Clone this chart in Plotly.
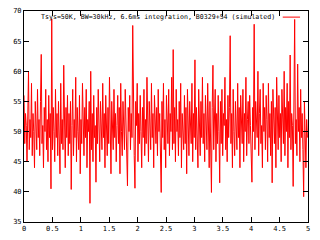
import numpy as np
import plotly.graph_objects as go

# sampling interval (s) -- every other 6.6 ms integration
dt = 0.0132

power = [
    56, 48, 53, 51, 45, 54, 60, 47, 52, 49, 58, 46, 53, 50, 44, 55, 51, 47, 57, 49,
    52, 46, 55, 62.8, 48, 51, 44, 54, 50, 57, 47, 52, 45, 56, 49, 53, 40.5, 68.7, 47, 54,
    50, 45, 57, 49, 53, 46, 55, 51, 43, 58, 48, 52, 47, 61, 50, 44, 54, 49, 56, 46,
    53, 48, 55, 40.4, 51, 57, 46, 52, 49, 59, 45, 54, 50, 47, 56, 43, 52, 48, 58, 51,
    46, 54, 49, 57, 44, 52, 50, 55, 38.1, 60, 47, 53, 45, 56, 49, 51, 41.6, 54, 48, 57,
    50, 45, 55, 52, 47, 58, 49, 53, 44, 56, 51, 46, 54, 48, 59, 50, 43, 55, 52, 47,
    57, 49, 53, 45, 51, 56, 48, 54, 43, 58, 50, 46, 55, 52, 47, 57, 49, 44, 41, 54,
    50, 56, 47, 53, 49, 67.6, 52, 46, 40.6, 55, 51, 58, 45, 53, 48, 56, 50, 44, 54, 49,
    57, 46, 52, 48, 59, 50, 45, 55, 51, 47, 58, 49, 53, 44, 56, 52, 48, 54, 46, 57,
    50, 53, 45, 39.9, 55, 49, 58, 47, 52, 44, 56, 51, 48, 57, 46, 53, 50, 59, 47, 63.6,
    48, 54, 45, 57, 50, 52, 46, 55, 49, 58, 44, 53, 51, 47, 56, 48, 54, 43, 57, 50,
    46, 55, 52, 48, 58, 45, 53, 49, 61.9, 47, 54, 50, 44, 57, 51, 46, 55, 49, 59, 48,
    53, 45, 56, 50, 47, 58, 52, 44, 55, 49, 39.9, 54, 61, 47, 51, 57, 45, 53, 48, 56,
    50, 41.5, 55, 48, 57, 46, 53, 51, 59, 47, 52, 45, 56, 49, 54, 65.9, 48, 53, 44, 57,
    50, 46, 55, 52, 47, 58, 49, 54, 44, 56, 51, 48, 57, 45, 53, 50, 59, 46, 52, 55,
    48, 56, 51, 45, 41.6, 54, 50, 67.8, 47, 55, 52, 49, 60, 46, 53, 57, 48, 51, 44, 58,
    50, 54, 47, 56, 52, 45, 58, 49, 53, 46, 55, 41.5, 57, 50, 48, 54, 44, 59, 51, 47,
    56, 49, 53, 45, 57, 51, 48, 60, 46, 54, 50, 58, 44, 55, 49, 62.7, 47, 53, 51, 40.9,
    55, 68.6, 48, 52, 46, 61.2, 50, 54, 45, 57, 49, 53, 47, 39.2, 55, 51, 44, 52, 49,
]
time = np.arange(len(power)) * dt

legend_label = "Tsys=50K, BW=30kHz, 6.6ms integration, B0329+54 (simulated)"
x_ticks = [0, 0.5, 1, 1.5, 2, 2.5, 3, 3.5, 4, 4.5, 5]
y_ticks = [35, 40, 45, 50, 55, 60, 65, 70]

font = dict(family="DejaVu Sans Mono", size=7, color="black")

fig = go.Figure()
fig.add_trace(go.Scatter(x=time, y=power, mode="lines",
                         line=dict(color="#ff0000", width=1),
                         name=legend_label, showlegend=False))

fig.update_layout(
    width=320, height=240,
    margin=dict(l=24, r=12, t=7, b=17),
    paper_bgcolor="white", plot_bgcolor="white",
    font=font,
    xaxis=dict(range=[0, 5], tickvals=x_ticks, ticktext=[f"{v:g}" for v in x_ticks],
               showgrid=False, zeroline=False, showline=True, linecolor="black",
               linewidth=1, mirror="ticks", ticks="inside", ticklen=5,
               tickcolor="black", tickfont=font),
    yaxis=dict(range=[35, 70], tickvals=y_ticks,
               showgrid=False, zeroline=False, showline=True, linecolor="black",
               linewidth=1, mirror="ticks", ticks="inside", ticklen=5,
               tickcolor="black", tickfont=font),
)

fig.add_annotation(text=legend_label, xref="paper", yref="paper",
                   x=0.890, y=0.972, xanchor="right", yanchor="middle",
                   showarrow=False, font=dict(family="DejaVu Sans Mono", size=6.6,
                                              color="black"))
fig.add_shape(type="line", xref="paper", yref="paper",
              x0=0.911, x1=0.972, y0=0.971, y1=0.971,
              line=dict(color="#ff0000", width=1))

fig.write_html("out.html")
